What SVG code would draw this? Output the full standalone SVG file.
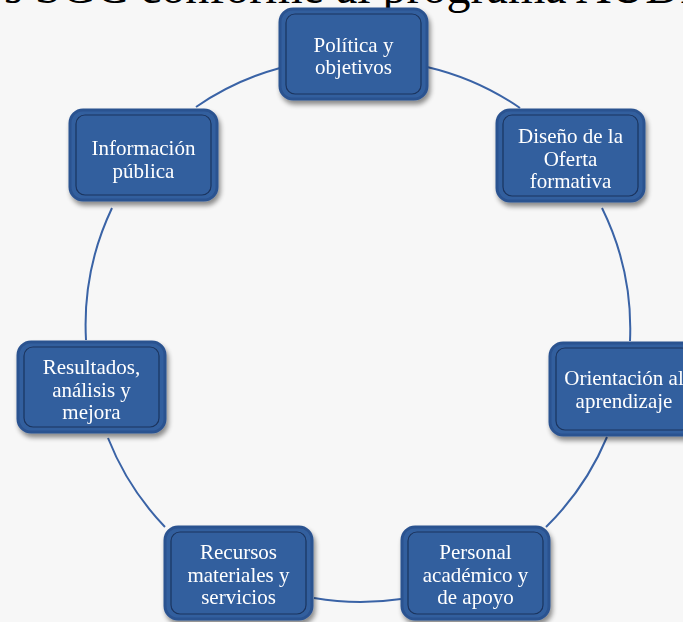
<svg xmlns="http://www.w3.org/2000/svg" width="683" height="622" viewBox="0 0 683 622">
<defs>
<style>
.title{font-family:"Liberation Serif","Times New Roman",serif;font-size:48px;fill:#000}
.box{fill:#335f9e;stroke:#2c5290;stroke-width:3}
.inner{fill:none;stroke:#1c355f;stroke-width:1.2}
.lbl{font-family:"Liberation Serif","Times New Roman",serif;font-size:21px;fill:#fff;text-anchor:middle}
.conn{fill:none;stroke:#3a63a6;stroke-width:2}
</style>
<filter id="sh" x="-20%" y="-20%" width="140%" height="150%">
<feGaussianBlur in="SourceAlpha" stdDeviation="2.5"/>
<feOffset dx="2" dy="4" result="b"/>
<feComponentTransfer><feFuncA type="linear" slope="0.45"/></feComponentTransfer>
<feMerge><feMergeNode/><feMergeNode in="SourceGraphic"/></feMerge>
</filter>
</defs>
<rect width="683" height="622" fill="#f7f7f7"/>
<text class="title" x="4" y="2.5">s SGC conforme al programa AUDIT</text>
<g id="connectors">
<path class="conn" d="M427,67 A273,273 0 0 1 520,108"/>
<path class="conn" d="M602,208 A273,273 0 0 1 630,341"/>
<path class="conn" d="M607,437 A273,273 0 0 1 546,527"/>
<path class="conn" d="M401,599 A273,273 0 0 1 314,598"/>
<path class="conn" d="M165,527 A273,273 0 0 1 108,438"/>
<path class="conn" d="M86,340 A273,273 0 0 1 112,208"/>
<path class="conn" d="M196,107 A273,273 0 0 1 280,68"/>
</g>
<g id="n1" filter="url(#sh)">
<rect class="box" x="280" y="9" width="147" height="90" rx="13"/>
<rect class="inner" x="286" y="14" width="135" height="80" rx="9"/>
<text class="lbl" x="353.5" y="52">Política y</text>
<text class="lbl" x="353.5" y="74">objetivos</text>
</g>
<g id="n2" filter="url(#sh)">
<rect class="box" x="497" y="110" width="147" height="91" rx="13"/>
<rect class="inner" x="503" y="115" width="135" height="81" rx="9"/>
<text class="lbl" x="570.5" y="143">Diseño de la</text>
<text class="lbl" x="570.5" y="166">Oferta</text>
<text class="lbl" x="570.5" y="188">formativa</text>
</g>
<g id="n3" filter="url(#sh)">
<rect class="box" x="550" y="343" width="147" height="92" rx="13"/>
<rect class="inner" x="556" y="348" width="135" height="82" rx="9"/>
<text class="lbl" x="624" y="385">Orientación al</text>
<text class="lbl" x="624" y="408">aprendizaje</text>
</g>
<g id="n4" filter="url(#sh)">
<rect class="box" x="402" y="527" width="147" height="92" rx="13"/>
<rect class="inner" x="408" y="532" width="135" height="82" rx="9"/>
<text class="lbl" x="475.5" y="559">Personal</text>
<text class="lbl" x="475.5" y="582">académico y</text>
<text class="lbl" x="475.5" y="604">de apoyo</text>
</g>
<g id="n5" filter="url(#sh)">
<rect class="box" x="165" y="527" width="147" height="92" rx="13"/>
<rect class="inner" x="171" y="532" width="135" height="82" rx="9"/>
<text class="lbl" x="238.5" y="559">Recursos</text>
<text class="lbl" x="238.5" y="582">materiales y</text>
<text class="lbl" x="238.5" y="604">servicios</text>
</g>
<g id="n6" filter="url(#sh)">
<rect class="box" x="18" y="342" width="147" height="90" rx="13"/>
<rect class="inner" x="24" y="347" width="135" height="80" rx="9"/>
<text class="lbl" x="91.5" y="374">Resultados,</text>
<text class="lbl" x="91.5" y="397">análisis y</text>
<text class="lbl" x="91.5" y="419">mejora</text>
</g>
<g id="n7" filter="url(#sh)">
<rect class="box" x="70" y="110" width="147" height="90" rx="13"/>
<rect class="inner" x="76" y="115" width="135" height="80" rx="9"/>
<text class="lbl" x="143.5" y="155">Información</text>
<text class="lbl" x="143.5" y="178">pública</text>
</g>
</svg>
